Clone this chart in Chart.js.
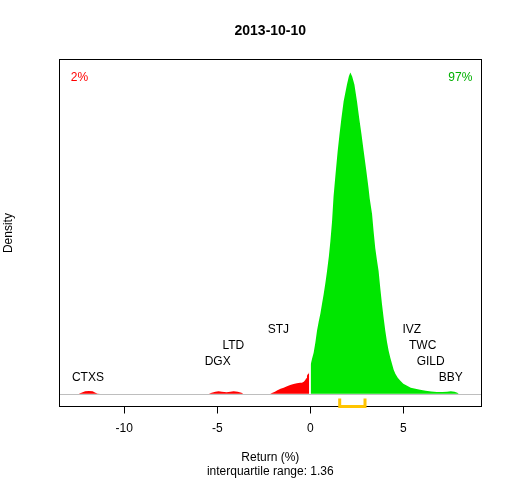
<!DOCTYPE html>
<html>
<head>
<meta charset="utf-8">
<script src="https://cdn.jsdelivr.net/npm/chart.js@4.4.1/dist/chart.umd.min.js"></script>
<style>
  html, body { margin: 0; padding: 0; background: #ffffff; }
  #wrap { width: 512px; height: 480px; }
</style>
</head>
<body>
<div id="wrap"><canvas id="c" width="512" height="480"></canvas></div>
<script>
// ---- data ----
const chartTitle = '2013-10-10';
const xTickValues = [-10, -5, 0, 5];
const xAxisLines = ['Return (%)', 'interquartile range: 1.36'];
const yAxisLabel = 'Density';

// density curve below zero (return %, density)
const negReturns = [-12.45, -12.3, -12.1, -11.9, -11.7, -11.55, -11.45, -11.3,
  -5.45, -5.3, -5.1, -4.93, -4.75, -4.5, -4.3, -4.12, -3.9, -3.7, -3.6,
  -2.15, -2.06, -1.9, -1.79, -1.6, -1.43, -1.25, -1.08, -0.9, -0.72, -0.55,
  -0.45, -0.35, -0.27, -0.22, -0.18, -0.12, -0.08, -0.06];
const negDensity = [0, 0.0012, 0.003, 0.0033, 0.0028, 0.0012, 0.0002, 0,
  0, 0.0012, 0.0024, 0.0028, 0.0024, 0.0016, 0.0024, 0.0028, 0.0022, 0.001, 0,
  0, 0.0009, 0.0024, 0.004, 0.0059, 0.0073, 0.0091, 0.0106, 0.0117, 0.0126, 0.0132,
  0.0134, 0.0146, 0.0167, 0.0189, 0.022, 0.0244, 0.0256, 0.0262];

// density curve above zero
const posReturns = [0.02, 0.09, 0.18, 0.27, 0.36, 0.45, 0.54, 0.63, 0.72, 0.81,
  0.9, 1.0, 1.08, 1.17, 1.25, 1.36, 1.47, 1.57, 1.67, 1.79, 1.97, 2.07, 2.15,
  2.25, 2.37, 2.51, 2.63, 2.75, 2.87, 3.0, 3.13, 3.19, 3.32, 3.4, 3.49, 3.58,
  3.67, 3.76, 3.85, 3.94, 4.03, 4.12, 4.21, 4.3, 4.39, 4.48, 4.57, 4.7, 4.84,
  5.0, 5.2, 5.4, 5.65, 5.9, 6.2, 6.5, 6.8, 7.1, 7.35, 7.55, 7.75, 7.9, 7.98];
const posDensity = [0.0354, 0.0423, 0.05, 0.0622, 0.0768, 0.0878, 0.0976, 0.1098,
  0.122, 0.1354, 0.15, 0.1683, 0.1866, 0.211, 0.2415, 0.2695, 0.2963, 0.3171,
  0.3366, 0.3573, 0.378, 0.3878, 0.3927, 0.3878, 0.378, 0.3573, 0.3366, 0.3171,
  0.2963, 0.2744, 0.2512, 0.239, 0.2195, 0.1988, 0.178, 0.1634, 0.15, 0.1293,
  0.1098, 0.0927, 0.0768, 0.0634, 0.0524, 0.0439, 0.0366, 0.0293, 0.0244,
  0.0195, 0.0159, 0.0122, 0.0098, 0.0073, 0.0061, 0.0049, 0.0037, 0.0027,
  0.0021, 0.002, 0.0024, 0.0029, 0.0024, 0.0012, 0];

// labelled stocks
const tickerNames = ['CTXS', 'DGX', 'LTD', 'STJ', 'IVZ', 'TWC', 'GILD', 'BBY'];
const tickerReturns = [-11.95, -4.98, -4.14, -1.72, 5.45, 6.04, 6.47, 7.55];
const tickerLevels = [1, 2, 3, 4, 4, 3, 2, 1];

// share below / above zero
const shareLabels = ['2%', '97%'];

// interquartile range
const iqrBounds = [1.58, 2.94];

// axis range
const xRange = [-13.49, 9.19];

// ---- styling ----
const FONT = 'Liberation Sans, Arial, Helvetica, sans-serif';
const RED = '#ff0000';
const GREEN = '#00e600';

const maxDens = Math.max(...negDensity, ...posDensity);
const toPts = (xs, ys) => xs.map((x, i) => ({ x: x, y: ys[i] }));

const decorPlugin = {
  id: 'decor',
  beforeDatasetsDraw(chart) {
    const { ctx, chartArea: a, scales } = chart;
    const y0 = scales.y.getPixelForValue(0);
    ctx.save();
    ctx.strokeStyle = '#bebebe';
    ctx.lineWidth = 1;
    ctx.beginPath();
    ctx.moveTo(a.left, Math.round(y0) + 0.5);
    ctx.lineTo(a.right, Math.round(y0) + 0.5);
    ctx.stroke();
    ctx.restore();
  },
  afterDatasetsDraw(chart) {
    const { ctx, chartArea: a, scales } = chart;
    ctx.save();
    // stock labels
    ctx.font = '12px ' + FONT;
    ctx.fillStyle = '#000000';
    ctx.textAlign = 'center';
    ctx.textBaseline = 'middle';
    tickerNames.forEach((n, i) => {
      const px = scales.x.getPixelForValue(tickerReturns[i]);
      const py = scales.y.getPixelForValue(tickerLevels[i] * 0.05 * maxDens);
      ctx.fillText(n, px, py);
    });
    // share labels
    ctx.textAlign = 'left';
    ctx.fillStyle = RED;
    ctx.fillText(shareLabels[0], a.left + 11.5, a.top + 18);
    ctx.textAlign = 'right';
    ctx.fillStyle = '#00b000';
    ctx.fillText(shareLabels[1], a.right - 9, a.top + 18);
    // box
    ctx.strokeStyle = '#000000';
    ctx.lineWidth = 1;
    ctx.strokeRect(Math.floor(a.left) + 0.5, Math.floor(a.top) + 0.5,
      Math.floor(a.right) - Math.floor(a.left), Math.floor(a.bottom) - Math.floor(a.top));
    ctx.restore();
  },
  afterDraw(chart) {
    const { ctx, chartArea: a, scales } = chart;
    const x1 = scales.x.getPixelForValue(iqrBounds[0]);
    const x2 = scales.x.getPixelForValue(iqrBounds[1]);
    const yb = Math.floor(a.bottom) + 0.5;
    ctx.save();
    ctx.strokeStyle = '#ffc400';
    ctx.lineWidth = 3;
    ctx.lineCap = 'butt';
    ctx.lineJoin = 'miter';
    ctx.beginPath();
    ctx.moveTo(x1, yb - 8);
    ctx.lineTo(x1, yb);
    ctx.lineTo(x2, yb);
    ctx.lineTo(x2, yb - 8);
    ctx.stroke();
    ctx.restore();
  }
};

new Chart(document.getElementById('c'), {
  type: 'line',
  data: {
    datasets: [
      { data: toPts(negReturns, negDensity), fill: 'origin', backgroundColor: RED,
        borderWidth: 0, borderColor: 'rgba(0,0,0,0)', pointRadius: 0, tension: 0 },
      { data: toPts(posReturns, posDensity), fill: 'origin', backgroundColor: GREEN,
        borderWidth: 0, borderColor: 'rgba(0,0,0,0)', pointRadius: 0, tension: 0 }
    ]
  },
  options: {
    responsive: false,
    animation: false,
    devicePixelRatio: 1,
    layout: { padding: { left: 0, right: 30.7, top: 0, bottom: 0 } },
    plugins: {
      legend: { display: false },
      tooltip: { enabled: false },
      title: {
        display: true, text: chartTitle, color: '#000000', fullSize: false,
        font: { family: FONT, size: 14, weight: 'bold', lineHeight: 1.2 },
        padding: { top: 23, bottom: 19.9 }
      }
    },
    scales: {
      x: {
        type: 'linear', min: xRange[0], max: xRange[1],
        afterBuildTicks: s => { s.ticks = xTickValues.map(v => ({ value: v })); },
        afterFit: s => { s.height = 480 - 406.5; },
        ticks: { color: '#000000', font: { family: FONT, size: 12 }, padding: 8,
          maxRotation: 0, autoSkip: false },
        grid: { display: true, drawOnChartArea: false, drawTicks: true, tickLength: 7,
          color: '#000000', lineWidth: 1 },
        border: { display: false },
        title: { display: true, text: xAxisLines, color: '#000000',
          font: { family: FONT, size: 12, lineHeight: 14 / 12 }, padding: { top: 0, bottom: 1 } }
      },
      y: {
        min: -0.04 * maxDens, max: 1.04 * maxDens,
        afterFit: s => { s.width = 59.3; },
        ticks: { display: false },
        grid: { display: false },
        border: { display: false },
        title: { display: true, text: yAxisLabel, color: '#000000',
          font: { family: FONT, size: 12, lineHeight: 14 / 12 }, padding: { top: 1.5, bottom: 0 } }
      }
    }
  },
  plugins: [decorPlugin]
});
</script>
</body>
</html>
